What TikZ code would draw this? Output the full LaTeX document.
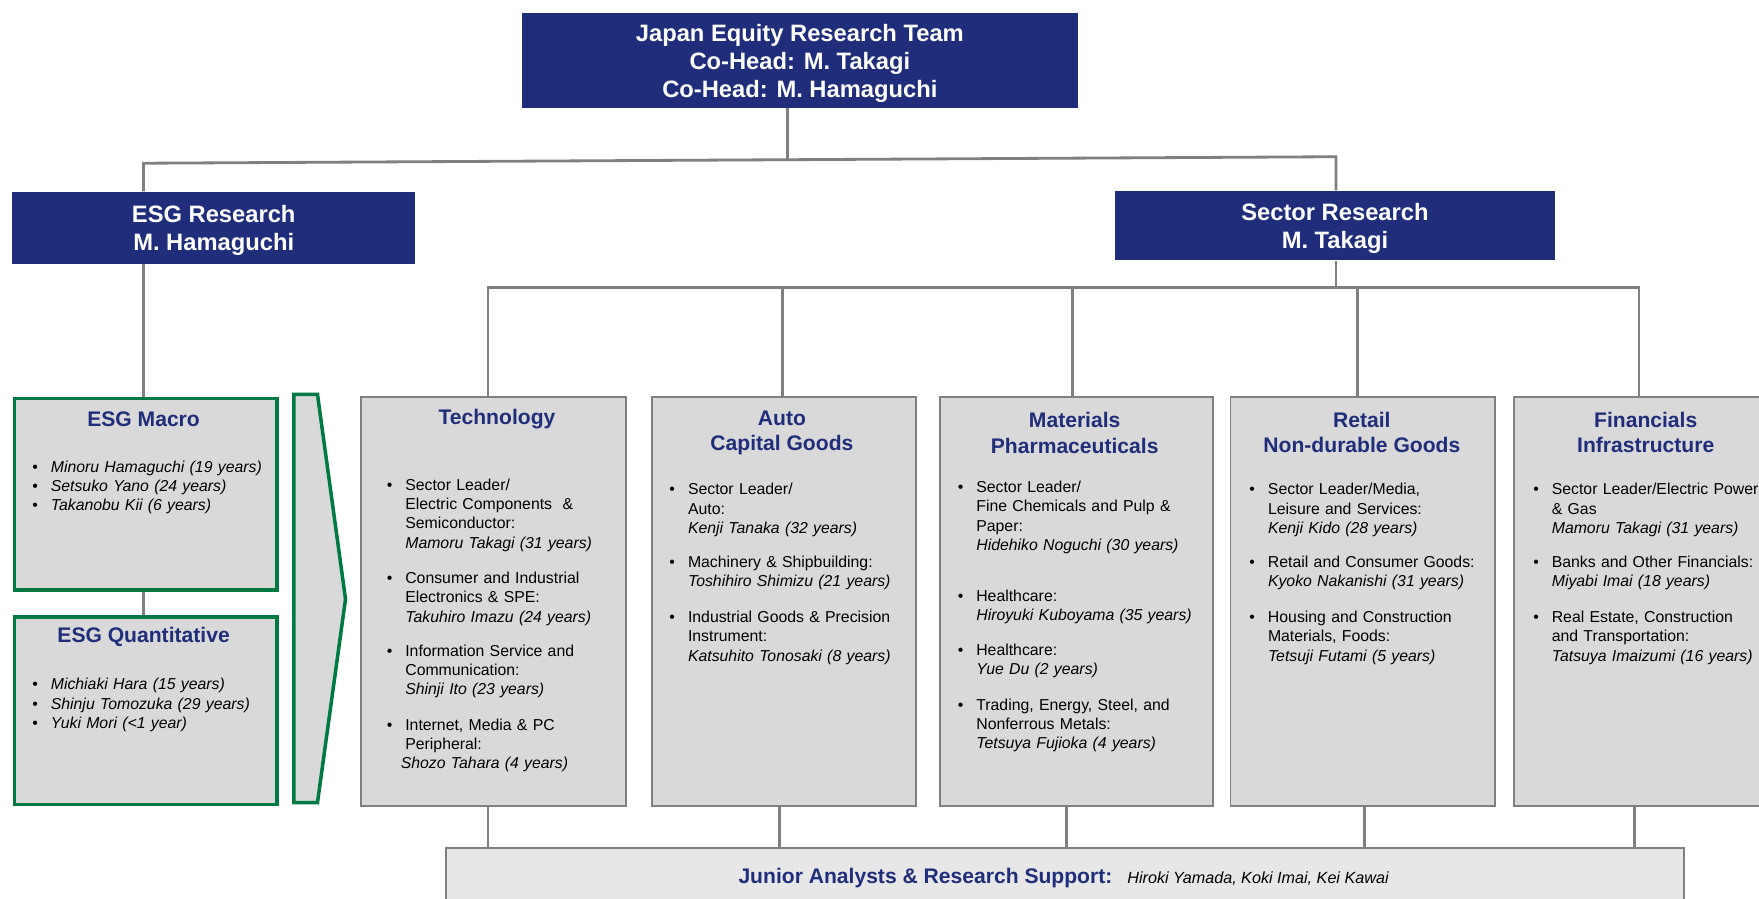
\documentclass[tikz,border=0pt]{standalone}
\usepackage{fontspec}
\setmainfont{Liberation Sans}
\definecolor{navy}{RGB}{32,45,122}
\definecolor{panelgray}{RGB}{217,217,217}
\definecolor{rulegray}{RGB}{128,128,128}
\definecolor{esggreen}{RGB}{0,122,66}
\definecolor{supportgray}{RGB}{231,231,231}
\newcommand\px{0.022436cm}
\newcommand\bul{\leavevmode\llap{\textbullet\hspace{0.26cm}}}
\tikzset{
  headbox/.style={fill=navy,text=white,align=center,inner sep=0pt,text depth=0pt,font=\fontsize{13.5}{15.9}\selectfont\bfseries},
  sectorbox/.style={fill=panelgray,draw=rulegray,line width=1.1pt,anchor=north west,inner sep=0pt,minimum height=365*\px},
  esgbox/.style={fill=panelgray,draw=esggreen,line width=2pt,anchor=north west,inner sep=0pt,minimum width=234*\px},
  boxtitle/.style={text=navy,align=center,inner sep=0pt,font=\fontsize{12}{14.3}\selectfont\bfseries},
  bullets/.style={anchor=base west,inner sep=0pt,text width=230*\px,align=left,font=\fontsize{9}{11}\selectfont},
  link/.style={draw=rulegray,line width=1.6pt}
}
\begin{document}
\begin{tikzpicture}[x=\px,y=-\px]
\useasboundingbox (0,0) rectangle (1568,801);
\clip (0,0) rectangle (1568,801);
\node[headbox,minimum width=496*\px,minimum height=84*\px] (team) at (713,54) {Japan Equity Research Team\\Co-Head: M. Takagi\\Co-Head: M. Hamaguchi};
\node[headbox,minimum width=359*\px,minimum height=64*\px] (esg) at (190.5,203) {ESG Research\\M. Hamaguchi};
\node[headbox,minimum width=392*\px,minimum height=62*\px] (sector) at (1190,201) {Sector Research\\M. Takagi};

\node[esgbox,minimum height=171*\px] (macro) at (11.5,353.5) {};
\node[esgbox,minimum height=167*\px] (quant) at (11.5,548.5) {};
\draw[draw=esggreen,line width=2pt,fill=panelgray] (262,351.5) -- (283,351.5) -- (308,534) -- (283,715.5) -- (262,715.5) -- cycle;

\node[sectorbox,minimum width=236*\px] (tech) at (321,353) {};
\node[sectorbox,minimum width=236*\px] (auto) at (580,353) {};
\node[sectorbox,minimum width=243*\px] (mat) at (837,353) {};
\node[sectorbox,minimum width=236*\px] (retail) at (1096,353) {};
\node[sectorbox,minimum width=240*\px] (fin) at (1349,353) {};
\node[fill=supportgray,draw=rulegray,line width=1.1pt,anchor=north west,inner sep=0pt,minimum width=1103*\px,minimum height=80*\px] (junior) at (397,755) {};

\draw[link] (team.south -| 702,0) -- (702,142.3);
\draw[link] (esg.north -| 128,0) -- (128,145.5) -- (1191,139.7) -- (sector.north -| 1191,0);
\draw[link] (esg.south -| 128,0) -- (macro.north -| 128,0);
\draw[link] (macro.south -| 128,0) -- (quant.north -| 128,0);
\draw[link] (sector.south -| 1191,0) -- (1191,256);
\draw[link] (tech.north -| 435,0) -- (435,256) -- (1461,256) -- (fin.north -| 1461,0);
\draw[link] (auto.north -| 697.5,0) -- (697.5,256);
\draw[link] (mat.north -| 956,0) -- (956,256);
\draw[link] (retail.north -| 1210,0) -- (1210,256);
\draw[link] (tech.south -| 435,0) -- (junior.north -| 435,0);
\draw[link] (auto.south -| 695,0) -- (junior.north -| 695,0);
\draw[link] (mat.south -| 951,0) -- (junior.north -| 951,0);
\draw[link] (retail.south -| 1216,0) -- (junior.north -| 1216,0);
\draw[link] (fin.south -| 1457,0) -- (junior.north -| 1457,0);

\node[boxtitle] (macrot) at (128,374) {ESG Macro};
\node[boxtitle] (quantt) at (128,568) {ESG Quantitative};
\node[boxtitle] (techt) at (443,374) {Technology};
\node[boxtitle] (autot) at (697,386) {Auto\\Capital Goods};
\node[boxtitle] (matt) at (958,386) {Materials\\Pharmaceuticals};
\node[boxtitle] (retailt) at (1214,385.5) {Retail\\Non-durable Goods};
\node[boxtitle] (fint) at (1467,385.5) {Financials\\Infrastructure};

\node[bullets] (macro1) at (45,421) {\bul\textit{Minoru Hamaguchi (19 years)}\\\bul\textit{Setsuko Yano (24 years)}\\\bul\textit{Takanobu Kii (6 years)}};
\node[bullets] (quant1) at (45,615) {\bul\textit{Michiaki Hara (15 years)}\\\bul\textit{Shinju Tomozuka (29 years)}\\\bul\textit{Yuki Mori (<1 year)}};

\node[bullets] (tech1) at (361,437) {\bul Sector Leader/\\Electric Components\ \ \&\\Semiconductor:\\\textit{Mamoru Takagi (31 years)}};
\node[bullets] (tech2) at (361,520) {\bul Consumer and Industrial\\Electronics \& SPE:\\\textit{Takuhiro Imazu (24 years)}};
\node[bullets] (tech3) at (361,585) {\bul Information Service and\\Communication:\\\textit{Shinji Ito (23 years)}};
\node[bullets] (tech4) at (361,651) {\bul Internet, Media \& PC\\Peripheral:\\\hspace{-0.09cm}\textit{Shozo Tahara (4 years)}};

\node[bullets] (auto1) at (613,441) {\bul Sector Leader/\\Auto:\\\textit{Kenji Tanaka (32 years)}};
\node[bullets] (auto2) at (613,506) {\bul Machinery \& Shipbuilding:\\\textit{Toshihiro Shimizu (21 years)}};
\node[bullets] (auto3) at (613,555) {\bul Industrial Goods \& Precision\\Instrument:\\\textit{Katsuhito Tonosaki (8 years)}};

\node[bullets] (mat1) at (870,439) {\bul Sector Leader/\\Fine Chemicals and Pulp \&\\Paper:\\\textit{Hidehiko Noguchi (30 years)}};
\node[bullets] (mat2) at (870,536) {\bul Healthcare:\\\textit{Hiroyuki Kuboyama (35 years)}};
\node[bullets] (mat3) at (870,584) {\bul Healthcare:\\\textit{Yue Du (2 years)}};
\node[bullets] (mat4) at (870,633) {\bul Trading, Energy, Steel, and\\Nonferrous Metals:\\\textit{Tetsuya Fujioka (4 years)}};

\node[bullets] (retail1) at (1130,441) {\bul Sector Leader/Media,\\Leisure and Services:\\\textit{Kenji Kido (28 years)}};
\node[bullets] (retail2) at (1130,506) {\bul Retail and Consumer Goods:\\\textit{Kyoko Nakanishi (31 years)}};
\node[bullets] (retail3) at (1130,555) {\bul Housing and Construction\\Materials, Foods:\\\textit{Tetsuji Futami (5 years)}};

\node[bullets] (fin1) at (1383,441) {\bul Sector Leader/Electric Power\\\& Gas\\\textit{Mamoru Takagi (31 years)}};
\node[bullets] (fin2) at (1383,506) {\bul Banks and Other Financials:\\\textit{Miyabi Imai (18 years)}};
\node[bullets] (fin3) at (1383,555) {\bul Real Estate, Construction\\and Transportation:\\\textit{Tatsuya Imaizumi (16 years)}};

\node[anchor=base west,inner sep=0pt] (juniort) at (658,787.6) {\textcolor{navy}{\fontsize{12}{14}\selectfont\bfseries Junior Analysts \& Research Support:}\hspace{0.3cm}{\fontsize{9.2}{11}\selectfont\itshape Hiroki Yamada, Koki Imai, Kei Kawai}};
\end{tikzpicture}
\end{document}
